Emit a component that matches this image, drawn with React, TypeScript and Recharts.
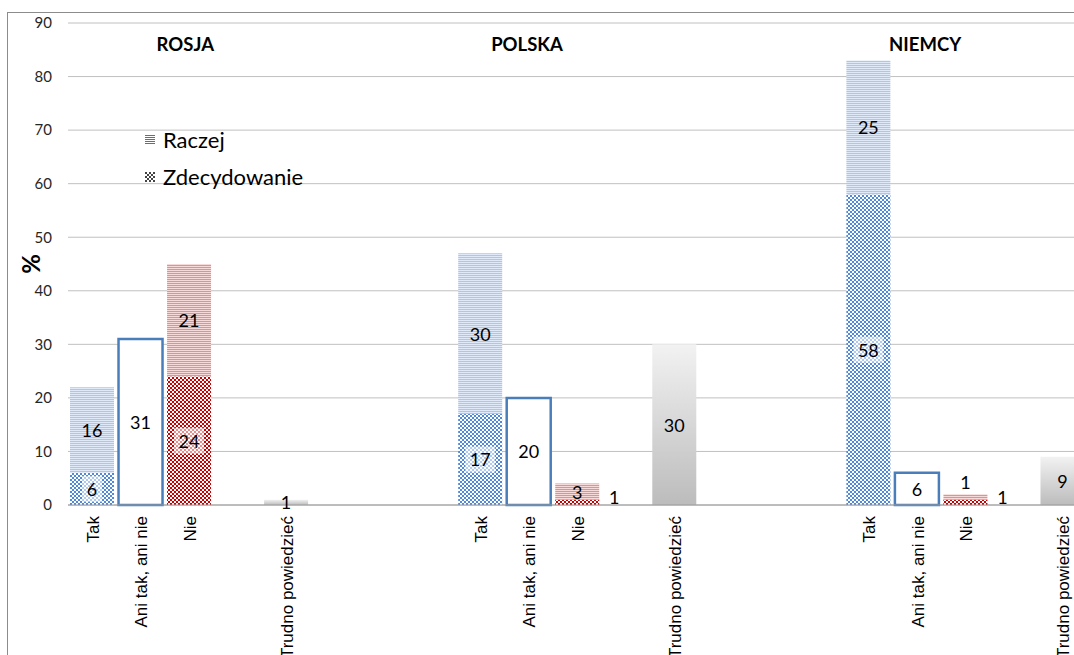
import React from 'react';
import { BarChart, Bar, XAxis, YAxis, CartesianGrid, Legend, LabelList, Cell, ReferenceDot } from 'recharts';

const categories = [
  'Tak', 'Ani tak, ani nie', 'Nie', '', 'Trudno powiedzieć', '', '', '',
  'Tak', 'Ani tak, ani nie', 'Nie', '', 'Trudno powiedzieć', '', '', '',
  'Tak', 'Ani tak, ani nie', 'Nie', '', 'Trudno powiedzieć',
];
const zdecydowanie = [6, null, 24, null, null, null, null, null, 17, null, 1, null, null, null, null, null, 58, null, 1, null, null];
const raczej = [16, null, 21, null, null, null, null, null, 30, null, 3, null, null, null, null, null, 25, null, 1, null, null];
const aniTakAniNie = [null, 31, null, null, null, null, null, null, null, 20, null, null, null, null, null, null, null, 6, null, null, null];
const trudnoPowiedziec = [null, null, null, null, 1, null, null, null, null, null, null, null, 30, null, null, null, null, null, null, null, 9];
const yTicks = [0, 10, 20, 30, 40, 50, 60, 70, 80, 90];
const groupTitles = [
  { label: 'ROSJA', idx: 2 },
  { label: 'POLSKA', idx: 9 },
  { label: 'NIEMCY', idx: 17 },
];
const titleY = 86;
const legendItems = ['Raczej', 'Zdecydowanie'];

const titleDx: Record<string, number> = { ROSJA: -4, POLSKA: -2, NIEMCY: 8 };

const data = categories.map((cat, i) => ({
  idx: i,
  cat,
  zd: zdecydowanie[i],
  rc: raczej[i],
  ne: aniTakAniNie[i],
  tr: trudnoPowiedziec[i],
}));

const FONT = "Lato, 'Open Sans', sans-serif";
const TICK_FONT = "'Liberation Sans', Arial, sans-serif";

const XTick = (props: any) => {
  const { x, y, payload } = props;
  const label = categories[payload.value] ?? '';
  return (
    <g transform={`translate(${x},${y})`}>
      <text transform="rotate(-90)" x={-11} y={0} dy="0.38em" textAnchor="end" fontFamily={TICK_FONT} fontSize={17} fill="#000">
        {label}
      </text>
    </g>
  );
};

const textProps = {
  fontFamily: FONT,
  fontSize: 18,
  fill: '#000',
  textAnchor: 'middle' as const,
  dominantBaseline: 'central' as const,
};

const ZdLabel = (p: any) => {
  const { value } = p;
  if (value == null) return null;
  const x = Number(p.x), y = Number(p.y), width = Number(p.width), height = Number(p.height);
  if (height < 12) {
    return <text x={x + width + 15} y={y + height / 2 - 5} {...textProps}>{value}</text>;
  }
  const cx = x + width / 2;
  const cy = y + height / 2;
  const w = String(value).length * 10 + 10;
  return (
    <g>
      <rect x={cx - w / 2} y={cy - 13} width={w} height={26} fill="#fff" fillOpacity={0.55} />
      <text x={cx} y={cy} {...textProps}>{value}</text>
    </g>
  );
};

const RcLabel = (p: any) => {
  const { value } = p;
  if (value == null) return null;
  const x = Number(p.x), y = Number(p.y), width = Number(p.width), height = Number(p.height);
  const cx = x + width / 2;
  const cy = height < 10 ? y - 12 : y + height / 2;
  return <text x={cx} y={cy} {...textProps}>{value}</text>;
};

const CenterLabel = (p: any) => {
  const { value } = p;
  if (value == null) return null;
  const x = Number(p.x), y = Number(p.y), width = Number(p.width), height = Number(p.height);
  return <text x={x + width / 2} y={y + height / 2} {...textProps}>{value}</text>;
};

const LegendBox = () => (
  <div style={{ fontFamily: FONT, fontSize: 22, color: '#000' }}>
    {legendItems.map((name, i) => (
      <div key={name} style={{ display: 'flex', alignItems: 'center', height: 37, whiteSpace: 'nowrap' }}>
        <svg width={10} height={10} style={{ marginRight: 8, display: 'block' }}>
          <rect width={10} height={10} fill={i === 0 ? 'url(#lgLines)' : 'url(#lgChecker)'} />
        </svg>
        <span>{name}</span>
      </div>
    ))}
  </div>
);

export default function App() {
  return (
    <div
      style={{
        position: 'fixed',
        left: 7,
        top: 12,
        width: 1066,
        height: 642,
        borderLeft: '1px solid #8c8c8c',
        borderTop: '1px solid #8c8c8c',
        overflow: 'hidden',
        background: '#fff',
      }}
    >
      <BarChart width={1090} height={662} data={data} margin={{ top: 10, right: 11, left: 0, bottom: 0 }}>
        <defs>
          <pattern id="blueLines" width={4} height={2} patternUnits="userSpaceOnUse">
            <rect width={4} height={2} fill="#e0e9f7" />
            <rect width={4} height={1} fill="#aec6ea" />
          </pattern>
          <pattern id="redLines" width={4} height={2} patternUnits="userSpaceOnUse">
            <rect width={4} height={2} fill="#f6dada" />
            <rect width={4} height={1} fill="#de9393" />
          </pattern>
          <pattern id="blueChecker" width={4} height={4} patternUnits="userSpaceOnUse">
            <rect width={4} height={4} fill="#ffffff" />
            <rect width={2} height={2} fill="#5088dc" />
            <rect x={2} y={2} width={2} height={2} fill="#5088dc" />
          </pattern>
          <pattern id="redChecker" width={4} height={4} patternUnits="userSpaceOnUse">
            <rect width={4} height={4} fill="#ffffff" />
            <rect width={2} height={2} fill="#cc0000" />
            <rect x={2} y={2} width={2} height={2} fill="#cc0000" />
          </pattern>
          <pattern id="lgLines" width={4} height={2} patternUnits="userSpaceOnUse">
            <rect width={4} height={2} fill="#ffffff" />
            <rect width={4} height={1} fill="#6e6e6e" />
          </pattern>
          <pattern id="lgChecker" width={4} height={4} patternUnits="userSpaceOnUse">
            <rect width={4} height={4} fill="#ffffff" />
            <rect width={2} height={2} fill="#444" />
            <rect x={2} y={2} width={2} height={2} fill="#444" />
          </pattern>
          <linearGradient id="grayGrad" x1="0" y1="0" x2="0" y2="1">
            <stop offset="0%" stopColor="#f2f2f2" />
            <stop offset="100%" stopColor="#bcbcbc" />
          </linearGradient>
        </defs>
        <CartesianGrid vertical={false} stroke="#c0c0c0" />
        <XAxis
          dataKey="idx"
          type="category"
          interval={0}
          height={170}
          tickLine={false}
          tickSize={0}
          tickMargin={0}
          axisLine={{ stroke: '#9a9a9a' }}
          tick={<XTick />}
        />
        <YAxis
          domain={[0, 90]}
          ticks={yTicks}
          width={60}
          axisLine={false}
          tickLine={false}
          tickSize={0}
          tickMargin={16}
          tick={{ fontFamily: FONT, fontSize: 15, fill: '#262626' }}
          label={(props: any) => {
            const vb = props.viewBox || { x: 0, y: 10, width: 60, height: 482 };
            const cy = vb.y + vb.height / 2;
            return (
              <text x={22} y={cy} transform={`rotate(-90, 22, ${cy})`} textAnchor="middle" dominantBaseline="central" fontFamily={FONT} fontWeight="bold" fontSize={24} fill="#000">
                %
              </text>
            );
          }}
        />
        <Legend
          layout="vertical"
          align="center"
          verticalAlign="middle"
          wrapperStyle={{ left: 137, top: 108, width: 'auto', height: 'auto' }}
          content={() => <LegendBox />}
        />
        <Bar dataKey="zd" stackId="s" barSize={44} isAnimationActive={false}>
          {data.map((d, i) => (
            <Cell key={i} fill={d.cat === 'Nie' ? 'url(#redChecker)' : 'url(#blueChecker)'} />
          ))}
          <LabelList dataKey="zd" content={ZdLabel} />
        </Bar>
        <Bar dataKey="rc" stackId="s" barSize={44} isAnimationActive={false}>
          {data.map((d, i) => (
            <Cell key={i} fill={d.cat === 'Nie' ? 'url(#redLines)' : 'url(#blueLines)'} />
          ))}
          <LabelList dataKey="rc" content={RcLabel} />
        </Bar>
        <Bar dataKey="ne" stackId="s" barSize={44} fill="#ffffff" stroke="#4a7ebb" strokeWidth={2.5} isAnimationActive={false}>
          <LabelList dataKey="ne" content={CenterLabel} />
        </Bar>
        <Bar dataKey="tr" stackId="s" barSize={44} fill="url(#grayGrad)" isAnimationActive={false}>
          <LabelList dataKey="tr" content={CenterLabel} />
        </Bar>
        {groupTitles.map((t) => (
          <ReferenceDot
            key={t.label}
            x={t.idx}
            y={titleY}
            r={0}
            ifOverflow="visible"
            shape={(p: any) => (
              <text x={Number(p.cx) + titleDx[t.label]} y={Number(p.cy)} textAnchor="middle" dominantBaseline="central" fontFamily={FONT} fontWeight="bold" fontSize={18.5} fill="#000">
                {t.label}
              </text>
            )}
          />
        ))}
      </BarChart>
    </div>
  );
}
